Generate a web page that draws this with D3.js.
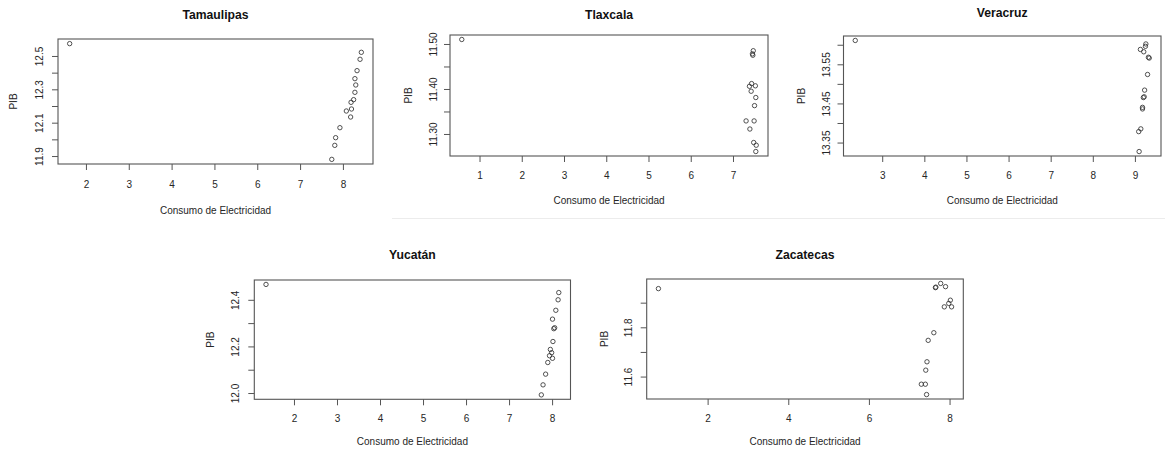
<!DOCTYPE html>
<html><head><meta charset="utf-8">
<script src="https://cdn.jsdelivr.net/npm/d3@7"></script>
<style>
body{margin:0;background:#fff}
svg{display:block}
text{font-family:"Liberation Sans",Arial,sans-serif}
</style>
</head><body>
<script>
// ---- Data ----
const tamaulipasX=[1.62,8.43,8.40,8.33,8.28,8.30,8.28,8.25,8.19,8.20,8.08,8.18,7.93,7.83,7.81,7.74];
const tamaulipasY=[12.574,12.522,12.480,12.412,12.364,12.326,12.282,12.238,12.222,12.182,12.170,12.134,12.070,12.010,11.964,11.880];

const tlaxcalaX=[0.58,7.48,7.46,7.47,7.44,7.39,7.53,7.43,7.54,7.51,7.31,7.50,7.40,7.49,7.55,7.54];
const tlaxcalaY=[11.510,11.485,11.478,11.475,11.412,11.406,11.407,11.395,11.381,11.363,11.329,11.329,11.311,11.281,11.275,11.261];

const veracruzX=[2.36,9.26,9.25,9.13,9.21,9.34,9.32,9.30,9.23,9.22,9.20,9.18,9.18,9.14,9.09,9.10];
const veracruzY=[13.611,13.602,13.596,13.588,13.582,13.566,13.568,13.524,13.484,13.467,13.465,13.440,13.436,13.385,13.378,13.327];

const yucatanX=[1.35,8.156,8.14,8.087,8.01,8.06,8.04,8.02,7.96,7.99,7.94,8.01,7.90,7.85,7.79,7.75];
const yucatanY=[12.466,12.431,12.400,12.355,12.317,12.280,12.276,12.221,12.187,12.173,12.160,12.149,12.131,12.081,12.035,11.992];

const zacatecasX=[0.78,7.65,7.66,7.78,7.90,8.02,7.98,7.87,8.05,7.61,7.47,7.44,7.41,7.30,7.40,7.43];
const zacatecasY=[11.957,11.961,11.963,11.978,11.965,11.910,11.897,11.883,11.883,11.778,11.747,11.660,11.626,11.569,11.569,11.527];

// tick values and labels
const tamaulipasXTicks=[2,3,4,5,6,7,8];
const tamaulipasYTicks=[11.9,12.0,12.1,12.2,12.3,12.4,12.5];
const tamaulipasYLabels=["11.9","","12.1","","12.3","","12.5"];

const tlaxcalaXTicks=[1,2,3,4,5,6,7];
const tlaxcalaYTicks=[11.30,11.35,11.40,11.45,11.50];
const tlaxcalaYLabels=["11.30","","11.40","","11.50"];

const veracruzXTicks=[3,4,5,6,7,8,9];
const veracruzYTicks=[13.35,13.40,13.45,13.50,13.55,13.60];
const veracruzYLabels=["13.35","","13.45","","13.55",""];

const yucatanXTicks=[2,3,4,5,6,7,8];
const yucatanYTicks=[12.0,12.1,12.2,12.3,12.4];
const yucatanYLabels=["12.0","","12.2","","12.4"];

const zacatecasXTicks=[2,4,6,8];
const zacatecasYTicks=[11.6,11.7,11.8,11.9];
const zacatecasYLabels=["11.6","","11.8",""];

const xTitle="Consumo de Electricidad";
const yTitle="PIB";

// ---- Layout ----
const W=1165,H=453;
const panels=[
  {name:"Tamaulipas",xs:tamaulipasX,ys:tamaulipasY,xt:tamaulipasXTicks,yt:tamaulipasYTicks,yl:tamaulipasYLabels,
   box:[58,373,39,164],titleY:15,tickY:20.5,labY:46,ytGap:18.7,pibGap:44.7},
  {name:"Tlaxcala",xs:tlaxcalaX,ys:tlaxcalaY,xt:tlaxcalaXTicks,yt:tlaxcalaYTicks,yl:tlaxcalaYLabels,
   box:[450,768,35,156],titleY:15,tickY:19.7,labY:44,ytGap:16.7,pibGap:41.7},
  {name:"Veracruz",xs:veracruzX,ys:veracruzY,xt:veracruzXTicks,yt:veracruzYTicks,yl:veracruzYLabels,
   box:[843.5,1161,36,156],titleY:12.7,tickY:19,labY:44,ytGap:16.7,pibGap:41.7},
  {name:"Yucatán",xs:yucatanX,ys:yucatanY,xt:yucatanXTicks,yt:yucatanYTicks,yl:yucatanYLabels,
   box:[254.3,570.5,280,399.3],titleY:255,tickY:19,labY:42.4,ytGap:19.3,pibGap:43.6},
  {name:"Zacatecas",xs:zacatecasX,ys:zacatecasY,xt:zacatecasXTicks,yt:zacatecasYTicks,yl:zacatecasYLabels,
   box:[646.7,963.3,279,399],titleY:255,tickY:19.3,labY:42.7,ytGap:18.4,pibGap:42.4}
];

const svg=d3.select("body").append("svg").attr("width",W).attr("height",H);
svg.append("rect").attr("width",W).attr("height",H).attr("fill","#fff");
// faint separator under upper-right images
svg.append("line").attr("x1",392).attr("x2",W).attr("y1",218.5).attr("y2",218.5)
  .attr("stroke","#ececec").attr("stroke-width",1);

const boxCol="#555", txtCol="#262626";

function padDomain(v){
  const mn=d3.min(v), mx=d3.max(v), r=mx-mn;
  return [mn-0.04*r, mx+0.04*r];
}

panels.forEach(p=>{
  const [x0,x1,y0,y1]=p.box;
  const x=d3.scaleLinear().domain(padDomain(p.xs)).range([x0,x1]);
  const y=d3.scaleLinear().domain(padDomain(p.ys)).range([y1,y0]);
  const g=svg.append("g");

  // title
  g.append("text").attr("x",(x0+x1)/2).attr("y",p.titleY).attr("dy","0.35em")
    .attr("text-anchor","middle").attr("font-size",12.2).attr("font-weight","bold")
    .attr("fill","#111").text(p.name);

  // x axis
  const xa=g.append("g").attr("transform",`translate(0,${y1})`)
    .call(d3.axisBottom(x).tickValues(p.xt).tickSize(6).tickFormat(d3.format("d")));
  xa.select(".domain").remove();
  xa.selectAll(".tick line").attr("stroke",boxCol);
  xa.selectAll(".tick text").attr("y",p.tickY).attr("dy","0.35em")
    .attr("font-size",10).attr("fill",txtCol).attr("font-family","'Liberation Sans',Arial,sans-serif");

  // y axis
  const ya=g.append("g").attr("transform",`translate(${x0},0)`)
    .call(d3.axisLeft(y).tickValues(p.yt).tickSize(6).tickFormat((d,i)=>p.yl[i]));
  ya.select(".domain").remove();
  ya.selectAll(".tick line").attr("stroke",boxCol);
  ya.selectAll(".tick text").attr("x",0).attr("y",-p.ytGap).attr("dy","0.35em")
    .attr("transform","rotate(-90)").attr("text-anchor","middle")
    .attr("font-size",10).attr("fill",txtCol).attr("font-family","'Liberation Sans',Arial,sans-serif");

  // box
  g.append("rect").attr("x",x0).attr("y",y0).attr("width",x1-x0).attr("height",y1-y0)
    .attr("fill","none").attr("stroke",boxCol).attr("stroke-width",1.1);

  // axis titles
  g.append("text").attr("x",(x0+x1)/2).attr("y",y1+p.labY).attr("dy","0.35em")
    .attr("text-anchor","middle").attr("font-size",10).attr("fill",txtCol).text(xTitle);
  g.append("text").attr("transform",`translate(${x0-p.pibGap},${(y0+y1)/2}) rotate(-90)`)
    .attr("dy","0.35em").attr("text-anchor","middle").attr("font-size",10)
    .attr("fill",txtCol).text(yTitle);

  // points
  g.selectAll("circle.pt").data(p.xs.map((v,i)=>[v,p.ys[i]])).enter().append("circle")
    .attr("class","pt").attr("cx",d=>x(d[0])).attr("cy",d=>y(d[1])).attr("r",2.2)
    .attr("fill","none").attr("stroke","#333").attr("stroke-width",0.85);
});
</script>
</body></html>
